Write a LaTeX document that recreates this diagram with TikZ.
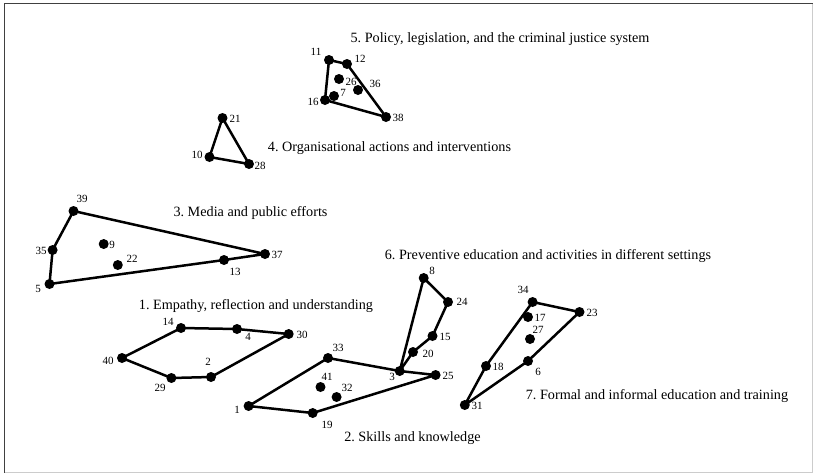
\documentclass[tikz,border=0pt]{standalone}
\usepackage{fontspec}
\setmainfont{Liberation Serif}
\frenchspacing
\begin{document}
\begin{tikzpicture}[x=1pt,y=-1pt,
  dot/.style={circle,fill=black,inner sep=0pt,minimum size=10pt},
  lbl/.style={inner sep=0pt,font=\fontsize{11}{12}\selectfont},
  ttl/.style={inner sep=0pt,font=\fontsize{14.2}{16}\selectfont},
  edge/.style={line width=2.5pt,line join=round}]
\useasboundingbox (0,0) rectangle (817,475);
\fill[white] (0,0) rectangle (817,475);
\draw[gray!40,line width=0.8pt] (4.5,3.5) -- (812.5,3.5) -- (812.5,472.5) -- (4.5,472.5) -- cycle;
\draw[black!75,line width=1.5pt] (4.5,472.5) -- (4.5,3.5) -- (812.5,3.5);

% cluster 5
\node[dot] (n11) at (329,60) {};
\node[dot] (n12) at (347,64) {};
\node[dot] (n26) at (339,79) {};
\node[dot] (n36) at (358,90) {};
\node[dot] (n7) at (334,96) {};
\node[dot] (n16) at (325,100) {};
\node[dot] (n38) at (386,117) {};
\draw[edge] (n11.center) -- (n12.center) -- (n38.center) -- (n16.center) -- cycle;
\node[lbl] at (316,52) {11};
\node[lbl] at (360,59) {12};
\node[lbl] at (351,82) {26};
\node[lbl] at (375,84) {36};
\node[lbl] at (343,93) {7};
\node[lbl] at (313,102) {16};
\node[lbl] at (398,118) {38};
\node[ttl] (t5) at (500,39) {5. Policy, legislation, and the criminal justice system};

% cluster 4
\node[dot] (n21) at (222.5,118) {};
\node[dot] (n10) at (209.5,157) {};
\node[dot] (n28) at (249,164) {};
\draw[edge] (n21.center) -- (n28.center) -- (n10.center) -- cycle;
\node[lbl] at (235,119) {21};
\node[lbl] at (197,155) {10};
\node[lbl] at (260,166) {28};
\node[ttl] (t4) at (389.5,148) {4. Organisational actions and interventions};

% cluster 3
\node[dot] (n39) at (73.5,211) {};
\node[dot] (n35) at (52.6,250) {};
\node[dot] (n9) at (103.7,244) {};
\node[dot] (n22) at (117.8,265) {};
\node[dot] (n13) at (224,260) {};
\node[dot] (n37) at (265,254) {};
\node[dot] (n5) at (49.5,284) {};
\draw[edge] (n39.center) -- (n37.center) -- (n13.center) -- (n5.center) -- (n35.center) -- cycle;
\node[lbl] at (82,199) {39};
\node[lbl] at (41,251) {35};
\node[lbl] at (112,245) {9};
\node[lbl] at (132,259) {22};
\node[lbl] at (235,272) {13};
\node[lbl] at (277,255) {37};
\node[lbl] at (38,289) {5};
\node[ttl] (t3) at (250.5,213) {3. Media and public efforts};

% cluster 1
\node[dot] (n14) at (181,328) {};
\node[dot] (n4) at (237,329) {};
\node[dot] (n30) at (288.7,334) {};
\node[dot] (n40) at (122,358) {};
\node[dot] (n29) at (171.4,378) {};
\node[dot] (n2) at (211,377) {};
\draw[edge] (n14.center) -- (n4.center) -- (n30.center) -- (n2.center) -- (n29.center) -- (n40.center) -- cycle;
\node[lbl] at (168,322) {14};
\node[lbl] at (248,337) {4};
\node[lbl] at (302,335) {30};
\node[lbl] at (108,361) {40};
\node[lbl] at (208,362) {2};
\node[lbl] at (160,388) {29};
\node[ttl] (t1) at (256,306) {1. Empathy, reflection and understanding};

% cluster 2
\node[dot] (n33) at (328,358) {};
\node[dot] (n3) at (399.7,371) {};
\node[dot] (n25) at (435.6,375) {};
\node[dot] (n41) at (320.5,387) {};
\node[dot] (n32) at (336.6,397) {};
\node[dot] (n1) at (248.6,406) {};
\node[dot] (n19) at (312.7,413) {};
\draw[edge] (n33.center) -- (n3.center) -- (n25.center) -- (n19.center) -- (n1.center) -- cycle;
\node[lbl] at (338,348) {33};
\node[lbl] at (327,377) {41};
\node[lbl] at (347,388) {32};
\node[lbl] at (237,410) {1};
\node[lbl] at (327,425) {19};
\node[lbl] at (392,377) {3};
\node[lbl] at (448,376) {25};
\node[ttl] (t2) at (412.5,438) {2. Skills and knowledge};

% cluster 6
\node[dot] (n8) at (423.7,278) {};
\node[dot] (n24) at (448,302) {};
\node[dot] (n15) at (432.5,336) {};
\node[dot] (n20) at (413,352) {};
\draw[edge] (n3.center) -- (n8.center) -- (n24.center) -- (n15.center) -- (n20.center) -- cycle;
\node[lbl] at (432,271) {8};
\node[lbl] at (462,302) {24};
\node[lbl] at (445,337) {15};
\node[lbl] at (428,354) {20};
\node[ttl] (t6) at (548,256) {6. Preventive education and activities in different settings};

% cluster 7
\node[dot] (n34) at (532.6,302) {};
\node[dot] (n23) at (579.5,312) {};
\node[dot] (n17) at (528,317) {};
\node[dot] (n27) at (530,339) {};
\node[dot] (n18) at (486,366) {};
\node[dot] (n6) at (528,361) {};
\node[dot] (n31) at (464.8,405) {};
\draw[edge] (n34.center) -- (n23.center) -- (n6.center) -- (n31.center) -- (n18.center) -- cycle;
\node[lbl] at (523,290) {34};
\node[lbl] at (540,318) {17};
\node[lbl] at (538,330) {27};
\node[lbl] at (592,313) {23};
\node[lbl] at (498,367) {18};
\node[lbl] at (538,372) {6};
\node[lbl] at (477,406) {31};
\node[ttl] (t7) at (657,396) {7. Formal and informal education and training};
\end{tikzpicture}
\end{document}
